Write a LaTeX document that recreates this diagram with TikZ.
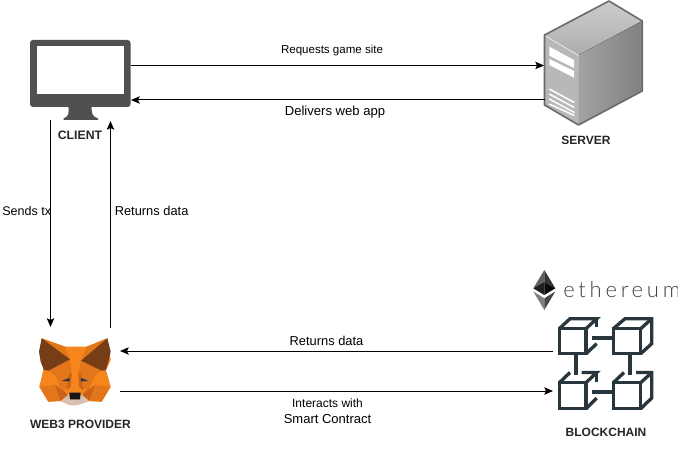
\documentclass[tikz,border=0pt]{standalone}
\usepackage{fontspec}
\setmainfont{Liberation Sans}
\newfontfamily\ethfont[UprightFont={* Light},LetterSpace=17]{Lato}
\usetikzlibrary{arrows.meta}
\definecolor{mon}{HTML}{505050}
\definecolor{chain}{HTML}{2A363D}
\definecolor{srvline}{HTML}{6A6A6A}
\definecolor{foxa}{RGB}{246,133,27}
\definecolor{foxb}{RGB}{226,118,27}
\definecolor{foxc}{RGB}{205,97,22}
\definecolor{foxd}{RGB}{118,61,22}
\definecolor{foxe}{RGB}{35,52,71}
\definecolor{foxf}{RGB}{215,193,179}
\definecolor{foxg}{RGB}{22,22,22}
\tikzset{
  x=0.75pt,y=-0.75pt,
  conn/.style={draw=black,line width=0.75pt,-{Stealth[length=6.5pt,width=5.5pt,inset=1.2pt]}},
  lbl/.style={font=\fontsize{9.65}{12}\selectfont,inner sep=0pt,align=center,text=black},
  iconlbl/.style={font=\fontsize{9.2}{11}\selectfont\bfseries,inner sep=0pt,text=black!85},
  cube/.style={draw=chain,line width=2.5pt,line cap=butt,line join=miter},
  strip/.style={draw=white,line width=1.1pt}
}
\begin{document}
\begin{tikzpicture}
\useasboundingbox (0,0) rectangle (678,449);
\fill[white] (0,0) rectangle (678,449);
% --- monitor
\fill[mon,rounded corners=2.2pt] (30,40) rectangle (130.5,107);
\fill[white] (37,46.5) rectangle (124,94);
\fill[mon] (68.3,106) .. controls (69,114) and (69,116) .. (63.5,118.5) -- (63.5,120) -- (98,120) -- (98,118.5) .. controls (92,116) and (91.5,114) .. (91.7,106) -- cycle;
% --- server
\fill[top color=black!20,bottom color=black!32] (544.5,35) -- (609,1) -- (642.3,21) -- (578.8,55) -- cycle;
\fill[left color=black!36,right color=black!50] (578.8,55) -- (642.3,21) -- (642.3,91) -- (578.5,125) -- cycle;
\fill[black!28] (544.5,35) -- (578.8,55) -- (578.5,125) -- (544.5,105) -- cycle;
\draw[black!8,line width=0.6pt] (545.5,36) -- (578.8,55.5);
\draw[srvline,line width=1.2pt,line join=round] (578.5,125) -- (544.5,105) -- (544.5,35) -- (609,1) -- (642.3,21) -- (642.3,91) -- cycle;
\fill[white] (549.3,46.7) -- (574,60) -- (574,68) -- (549.3,55.7) -- cycle;
\fill[white] (549.3,59) -- (574,71) -- (574,77.7) -- (549.3,65) -- cycle;
\draw[strip] (549.3,89) -- (574.3,102.5);
\draw[strip] (549.3,94) -- (574.3,107.5);
\draw[strip] (549.3,99) -- (574.3,112.5);
\draw[strip] (549.3,104) -- (574.3,115.5);
% --- fox
\begin{scope}[shift={(20,320)},x=0.25pt,y=-0.25pt,line join=round]
\fill[foxa] (65,55) -- (135,80) -- (200,80) -- (262,55) -- (272,120) -- (258,150) -- (272,200) -- (245,245) -- (208,243) -- (172,255) -- (150,255) -- (122,243) -- (85,245) -- (58,200) -- (70,150) -- cycle;
\fill[foxb] (65,55) -- (135,80) -- (150,118) -- cycle;
\fill[foxb] (262,55) -- (200,80) -- (183,122) -- cycle;
\fill[foxb] (85,152) -- (150,118) -- (155,160) -- (105,165) -- cycle;
\fill[foxb] (245,152) -- (183,122) -- (175,160) -- (225,165) -- cycle;
\fill[foxb] (105,165) -- (155,160) -- (152,200) -- (125,210) -- cycle;
\fill[foxb] (225,165) -- (175,160) -- (178,200) -- (205,210) -- cycle;
\fill[foxb] (58,200) -- (105,195) -- (122,243) -- (85,245) -- cycle;
\fill[foxb] (272,200) -- (225,195) -- (208,243) -- (245,245) -- cycle;
\fill[foxc] (105,195) -- (135,215) -- (148,235) -- (122,243) -- cycle;
\fill[foxc] (225,195) -- (195,215) -- (182,235) -- (208,243) -- cycle;
\fill[foxc] (148,160) -- (155,160) -- (152,200) -- (140,212) -- cycle;
\fill[foxc] (182,160) -- (175,160) -- (178,200) -- (190,212) -- cycle;
\fill[foxe] (125,183) -- (148,174) -- (148,184) -- cycle;
\fill[foxe] (205,183) -- (183,174) -- (183,184) -- cycle;
\fill[foxf] (122,243) -- (148,222) -- (150,238) -- (180,238) -- (182,222) -- (208,243) -- (172,255) -- (150,255) -- cycle;
\fill[foxg] (148,218) -- (182,218) -- (180,238) -- (150,238) -- cycle;
\fill[foxd] (65,55) -- (150,118) -- (85,152) -- (72,150) -- (62,125) -- (57,95) -- cycle;
\fill[foxd] (262,55) -- (183,122) -- (245,152) -- (258,150) -- (265,125) -- (272,95) -- cycle;
\end{scope}
% --- ethereum mark
\fill[black!62] (544.3,270) -- (533.3,288.3) -- (544.3,282) -- cycle;
\fill[black!80] (544.3,270) -- (555.3,288.3) -- (544.3,282) -- cycle;
\fill[black!88] (544.3,282) -- (533.3,288.3) -- (544.3,295) -- cycle;
\fill[black!96] (544.3,282) -- (555.3,288.3) -- (544.3,295) -- cycle;
\fill[black!50] (533.3,291.5) -- (544.3,298.3) -- (544.3,310) -- cycle;
\fill[black!72] (555.3,291.5) -- (544.3,298.3) -- (544.3,310) -- cycle;
\node[anchor=base west,inner sep=0pt,font=\ethfont\fontsize{16.5}{16.5}\selectfont,text=black!75] (ethword) at (563,297) {ethereum};
% --- blockchain
\draw[cube] (559.3,328.7) rectangle (586,353.7);
\draw[cube] (559.3,328.7) -- (570,318.7) -- (596.7,318.7) -- (586,328.7);
\draw[cube] (596.7,317.5) -- (596.7,327);
\draw[cube] (596.7,343.7) -- (586,353.7);
\draw[cube] (613.3,328.7) rectangle (640.7,353.7);
\draw[cube] (613.3,328.7) -- (625,318.7) -- (651.7,318.7) -- (651.7,343.7) -- (640.7,353.7);
\draw[cube] (651.7,318.7) -- (640.7,328.7);
\draw[cube] (591.7,338) -- (613.3,338);
\draw[cube] (576,353.7) -- (576,375);
\draw[cube] (630,353.7) -- (630,375);
\draw[cube] (559.3,382.7) rectangle (586,408.7);
\draw[cube] (559.3,382.7) -- (570,372.5);
\draw[cube] (581.7,372.5) -- (596.7,372.5) -- (586,382.7);
\draw[cube] (596.7,371.3) -- (596.7,382);
\draw[cube] (596.7,398) -- (586,408.7);
\draw[cube] (613.3,382.7) rectangle (640.7,408.7);
\draw[cube] (613.3,382.7) -- (624,372.5);
\draw[cube] (636,372.5) -- (651.7,372.5) -- (651.7,398) -- (640.7,408.7);
\draw[cube] (651.7,372.5) -- (640.7,382.7);
\draw[cube] (591.7,392) -- (613.3,392);
% --- anchors of the connectors
\coordinate (clientR1) at (130.5,65.5);
\coordinate (serverL1) at (544,65.5);
\coordinate (serverL2) at (544.5,100);
\coordinate (clientR2) at (131,100);
\coordinate (clientB1) at (50.5,120);
\coordinate (foxT1) at (50.5,327);
\coordinate (foxT2) at (110.5,328);
\coordinate (clientB2) at (110.5,121);
\coordinate (chainL1) at (553,351);
\coordinate (foxR1) at (120,351);
\coordinate (foxR2) at (120,391);
\coordinate (chainL2) at (553,391);
% --- connectors
\draw[conn] (clientR1) -- (serverL1);
\draw[conn] (serverL2) -- (clientR2);
\draw[conn] (clientB1) -- (foxT1);
\draw[conn] (foxT2) -- (clientB2);
\draw[conn] (chainL1) -- (foxR1);
\draw[conn] (foxR2) -- (chainL2);
% --- labels
\node[lbl,font=\fontsize{8.65}{11}\selectfont] (l1) at (332,50.5) {Requests game site};
\node[lbl,font=\fontsize{9.8}{12}\selectfont] (l2) at (335,112) {Delivers web app};
\node[lbl,anchor=west,font=\fontsize{9.4}{12}\selectfont] (l3) at (2,211) {Sends tx};
\node[lbl,anchor=west] (l4) at (114.5,211) {Returns data};
\node[lbl] (l5) at (326.5,341) {Returns data};
\node[lbl,font=\fontsize{9}{12}\selectfont] (l6a) at (327.5,403) {Interacts with};
\node[lbl,font=\fontsize{9.75}{12}\selectfont] (l6b) at (327.5,419) {Smart Contract};
\node[iconlbl] (client) at (80,135.5) {CLIENT};
\node[iconlbl,font=\fontsize{9}{11}\selectfont\bfseries] (server) at (586,140) {SERVER};
\node[iconlbl,font=\fontsize{9}{11}\selectfont\bfseries] (fox) at (80.5,424) {WEB3 PROVIDER};
\node[iconlbl,font=\fontsize{9}{11}\selectfont\bfseries] (chainl) at (606,432) {BLOCKCHAIN};
\end{tikzpicture}
\end{document}
